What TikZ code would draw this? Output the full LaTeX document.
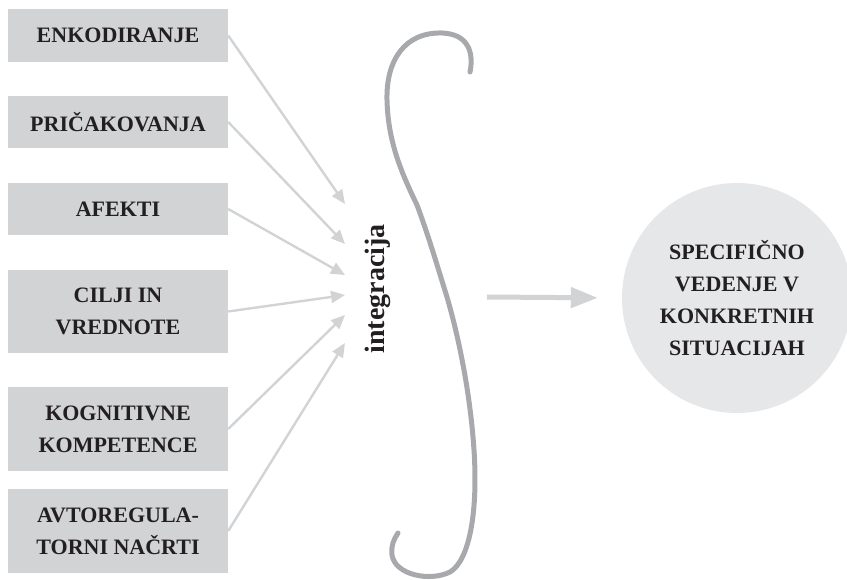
\documentclass[tikz,border=0pt]{standalone}
\usepackage{fontspec}
\setmainfont{Liberation Serif}
\usepackage{xcolor}
\usepackage{tikz}
\usetikzlibrary{arrows.meta,positioning}
\definecolor{igBox}{HTML}{D1D3D4}
\definecolor{igCircle}{HTML}{E6E7E8}
\definecolor{igArrow}{HTML}{D1D3D4}
\definecolor{igCurve}{HTML}{A7A9AC}
\definecolor{igText}{HTML}{231F20}

\begin{document}
\begin{tikzpicture}[x=1pt,y=-1pt,
    factor/.style={fill=igBox,minimum width=220pt,inner sep=0pt,align=center,text=igText,
                   font=\bfseries\fontsize{22}{32}\selectfont},
    feed/.style={draw=igArrow,line width=2.4pt,-{Triangle[length=14pt,width=12pt]}},
    result/.style={draw=igArrow,line width=5pt,-{Triangle[length=27pt,width=20pt]}}]
    \useasboundingbox (0,0) rectangle (847,580);
    % left column
    \node[factor,minimum height=53pt] (enk) at (118,35.5) {ENKODIRANJE};
    \node[factor,minimum height=52pt] (pri) at (118,122) {PRIČAKOVANJA};
    \node[factor,minimum height=52pt] (afe) at (118,209) {AFEKTI};
    \node[factor,minimum height=83pt] (cil) at (118,311.5) {CILJI IN\\VREDNOTE};
    \node[factor,minimum height=84pt] (kog) at (118,429) {KOGNITIVNE\\KOMPETENCE};
    \node[factor,minimum height=84pt] (avt) at (118,531) {AVTOREGULA-\\TORNI NAČRTI};
    % arrow tips in front of the integral
    \coordinate (tEnk) at (345,204);
    \coordinate (tPri) at (345,244);
    \coordinate (tAfe) at (345,275);
    \coordinate (tCil) at (345,295);
    \coordinate (tKog) at (345,315);
    \coordinate (tAvt) at (345,343);
    \foreach \n/\t in {enk/tEnk,pri/tPri,afe/tAfe,cil/tCil,kog/tKog,avt/tAvt}
      \draw[feed] (\n.east) -- (\t);
    \node[rotate=90,text=igText,font=\bfseries\fontsize{28}{32}\selectfont] (int) at (378,289) {integracija};
    % integral sign
    \draw[igCurve,line width=5pt,line cap=round,line join=round]
      (470,72) .. controls (474,52) and (468,34) .. (442,33)
      .. controls (405,32) and (386,60) .. (387,100)
      .. controls (388,140) and (400,170) .. (417,205)
      .. controls (430,240) and (440,275) .. (447,297)
      .. controls (458,335) and (470,390) .. (474,450)
      .. controls (478,510) and (470,560) .. (450,572)
      .. controls (430,582) and (395,575) .. (392,555)
      .. controls (391,545) and (394,539) .. (398,533);
    % outcome
    \node[circle,fill=igCircle,minimum size=230pt,inner sep=0pt,align=center,text=igText,
          font=\bfseries\fontsize{22}{32}\selectfont] (beh) at (737,298)
          {SPECIFIČNO\\VEDENJE V\\KONKRETNIH\\SITUACIJAH};
    \coordinate (oStart) at (487,297);
    \draw[result,shorten >=24pt] (oStart) -- (beh.west);
  \end{tikzpicture}
\end{document}
